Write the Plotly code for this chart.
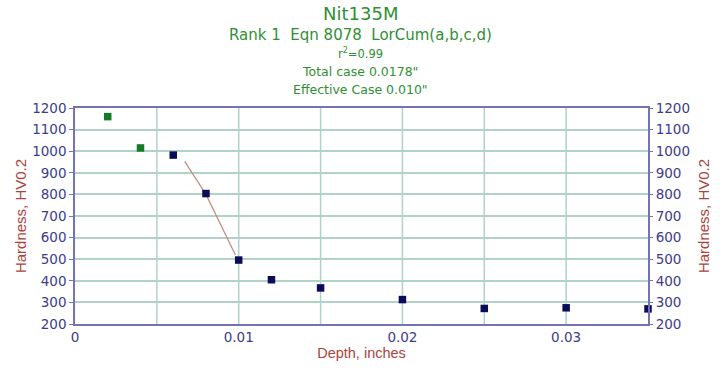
import plotly.graph_objects as go

# Data
green_depth = [0.002, 0.004]
green_hard = [1160, 1015]
navy_depth = [0.006, 0.008, 0.010, 0.012, 0.015, 0.020, 0.025, 0.030, 0.035]
navy_hard = [982, 804, 496, 405, 367, 313, 272, 275, 270]
fit_depth = [0.0067, 0.0080, 0.0098]
fit_hard = [953, 800, 519]

title_lines = ["Nit135M", "Rank 1  Eqn 8078  LorCum(a,b,c,d)", "r<sup>2</sup>=0.99",
               "Total case 0.0178\"", "Effective Case 0.010\""]
x_ticks = [0, 0.01, 0.02, 0.03]
x_ticklabels = ["0", "0.01", "0.02", "0.03"]
y_ticks = list(range(200, 1300, 100))

border = "#7373b5"
grid = "#b0d2c8"
tickc = "#3c3c8c"
titlec = "#a8453c"
green_t = "#2f8f35"

fig = go.Figure()
fig.add_trace(go.Scatter(x=fit_depth, y=fit_hard, mode="lines",
                         line=dict(color="#c08a80", width=1.2), showlegend=False))
fig.add_trace(go.Scatter(x=green_depth, y=green_hard, mode="markers",
                         marker=dict(symbol="square", size=7.5, color="#157a25"), showlegend=False))
fig.add_trace(go.Scatter(x=navy_depth, y=navy_hard, mode="markers",
                         marker=dict(symbol="square", size=7.5, color="#0b0b5c"), showlegend=False,
                         cliponaxis=False))
fig.add_trace(go.Scatter(x=[0], y=[200], yaxis="y2", mode="markers",
                         marker=dict(opacity=0), hoverinfo="skip", showlegend=False))

tfont = "DejaVu Sans, Verdana, sans-serif"
afont = "Arial, Liberation Sans, sans-serif"
sizes = [18, 15, 11.5, 12.5, 12.5]
ys = [12, 33, 52, 71, 89]
pl, pr, pt, pb = 75.4, 651.5, 107.5, 326.5
pw, ph = pr - pl, pb - pt
anns = []
for t, s, yy in zip(title_lines, sizes, ys):
    anns.append(dict(text=t, x=(362 - pl) / pw, y=(pb - yy) / ph, xref="paper", yref="paper",
                     showarrow=False, xanchor="center", yanchor="middle",
                     font=dict(size=s, color=green_t, family=tfont)))

tickfont = dict(size=13.5, color=tickc, family=tfont)
axtitle = dict(size=14.5, color=titlec, family=afont)
ytitle = dict(size=15, color=titlec, family=afont)
fig.update_layout(
    width=722, height=371,
    margin=dict(l=pl, r=722 - pr, t=pt, b=371 - pb),
    paper_bgcolor="white", plot_bgcolor="white",
    font=dict(family=afont, color=tickc, size=12),
    annotations=anns,
    xaxis=dict(range=[0, 0.035], tickvals=x_ticks, ticktext=x_ticklabels,
               showgrid=False, zeroline=False, showline=True, linecolor=border, linewidth=1.5,
               mirror=True, ticks="", tickfont=tickfont,
               title=dict(text="Depth, inches", font=axtitle, standoff=4)),
    yaxis=dict(range=[200, 1200], tickvals=y_ticks, showgrid=True, gridcolor=grid, gridwidth=1.5,
               zeroline=False, showline=True, linecolor=border, linewidth=1.5, mirror=True,
               ticks="outside", ticklen=4, tickcolor=border, tickfont=tickfont,
               title=dict(text="Hardness, HV0.2", font=ytitle, standoff=2)),
    yaxis2=dict(range=[200, 1200], tickvals=y_ticks, overlaying="y", side="right",
                showgrid=False, zeroline=False, showline=False,
                ticks="outside", ticklen=4, tickcolor=border, tickfont=tickfont,
                title=dict(text="Hardness, HV0.2", font=ytitle, standoff=9)),
)
# vertical grid lines every 0.005
for v in [0.005, 0.01, 0.015, 0.02, 0.025, 0.03]:
    fig.add_shape(type="line", x0=v, x1=v, y0=0, y1=1, xref="x", yref="paper",
                  line=dict(color=grid, width=1.5), layer="below")

fig.write_html("out.html")
